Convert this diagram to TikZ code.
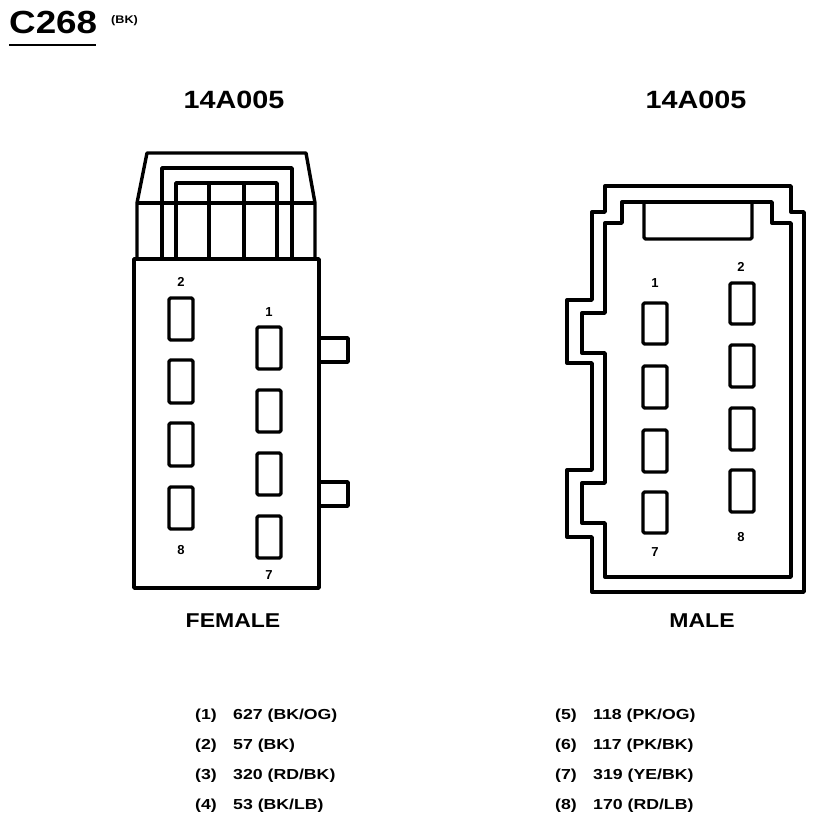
\documentclass[tikz,border=0pt]{standalone}
\usepackage{fontspec}
\setmainfont{Liberation Sans}
\newfontfamily\wide[FakeStretch=1.15]{Liberation Sans}
\newfontfamily\wider[FakeStretch=1.22]{Liberation Sans}
\begin{document}
\begin{tikzpicture}[x=1pt,y=-1pt,line join=round,
  ln/.style={line width=3.4pt},
  pin/.style={line width=3.4pt,rounded corners=1.5pt},
  num/.style={font=\bfseries\fontsize{13}{13}\selectfont},
  big/.style={font=\wide\bfseries\fontsize{25}{25}\selectfont},
  leg/.style={font=\wider\bfseries\fontsize{14.5}{14.5}\selectfont,anchor=west,inner sep=0}]
\useasboundingbox (0,0) rectangle (814,826);
% title
\node[font=\wide\bfseries\fontsize{32}{32}\selectfont,anchor=west,inner sep=0] (title) at (9,22) {C268};
\node[font=\wide\bfseries\fontsize{11}{11}\selectfont,anchor=west,inner sep=0] (bk) at (111,21) {(BK)};
\draw[line width=2.8pt] (9,45) -- (96,45);
\node[big] (h1) at (234,100) {14A005};
\node[big] (h2) at (696,100) {14A005};
% female
\draw[ln] (134,259) rectangle (319,588);
\draw[ln] (319,338) -- (348,338) -- (348,362) -- (319,362);
\draw[ln] (319,482) -- (348,482) -- (348,506) -- (319,506);
\draw[ln] (137,259) -- (137,203) -- (147,153) -- (306,153) -- (315,203) -- (315,259);
\draw[ln] (137,203) -- (315,203);
\draw[ln] (162,259) -- (162,168) -- (292,168) -- (292,259);
\draw[ln] (176,259) -- (176,183) -- (277,183) -- (277,259);
\draw[ln] (209,183) -- (209,258);
\draw[ln] (244,183) -- (244,258);
\foreach \a/\b in {298/340,360/403,423/466,487/529}
  \draw[pin] (169,\a) rectangle (193,\b);
\foreach \a/\b in {327/369,390/432,453/495,516/558}
  \draw[pin] (257,\a) rectangle (281,\b);
\node[num] (f2) at (181,282) {2};
\node[num] (f1) at (269,312) {1};
\node[num] (f8) at (181,550) {8};
\node[num] (f7) at (269,575) {7};
\node[font=\wide\bfseries\fontsize{20}{20}\selectfont] (fem) at (233,621) {FEMALE};
% male
\draw[ln] (605,186) -- (791,186) -- (791,212) -- (804,212) -- (804,592) -- (592,592) -- (592,537) -- (567,537) -- (567,470) -- (592,470) -- (592,363) -- (567,363) -- (567,300) -- (592,300) -- (592,212) -- (605,212) -- cycle;
\draw[ln] (605,577) -- (605,523) -- (582,523) -- (582,483) -- (605,483) -- (605,353) -- (582,353) -- (582,313) -- (605,313) -- (605,223) -- (622,223) -- (622,202) -- (772,202) -- (772,223) -- (791,223) -- (791,577) -- cycle;
\draw[ln,rounded corners=1.5pt] (644,202) -- (644,239) -- (752,239) -- (752,202);
\foreach \a/\b in {303/344,366/408,430/472,492/533}
  \draw[pin] (643,\a) rectangle (667,\b);
\foreach \a/\b in {283/324,345/387,408/450,470/512}
  \draw[pin] (730,\a) rectangle (754,\b);
\node[num] (m1) at (655,283) {1};
\node[num] (m2) at (741,267) {2};
\node[num] (m7) at (655,552) {7};
\node[num] (m8) at (741,537) {8};
\node[font=\wide\bfseries\fontsize{20}{20}\selectfont] (mal) at (702,621) {MALE};
% legend
\foreach \n/\t/\y in {1/{627 (BK/OG)}/716,2/{57 (BK)}/746,3/{320 (RD/BK)}/776,4/{53 (BK/LB)}/806}{
  \node[leg] (ln\n) at (195,\y) {(\n)};
  \node[leg] (lt\n) at (233,\y) {\t};}
\foreach \n/\t/\y in {5/{118 (PK/OG)}/716,6/{117 (PK/BK)}/746,7/{319 (YE/BK)}/776,8/{170 (RD/LB)}/806}{
  \node[leg] (ln\n) at (555,\y) {(\n)};
  \node[leg] (lt\n) at (593,\y) {\t};}
\end{tikzpicture}
\end{document}
